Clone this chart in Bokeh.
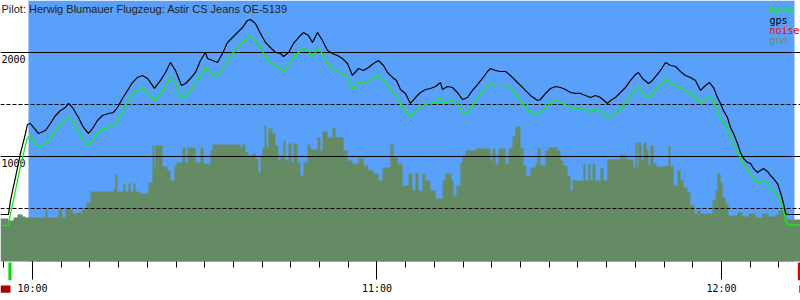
from bokeh.plotting import figure
from bokeh.models import Range1d, LinearAxis, FixedTicker, Grid
from bokeh.core.properties import value
from bokeh.embed import file_html
from bokeh.resources import INLINE

TITLE = "Pilot: Herwig Blumauer Flugzeug: Astir CS Jeans OE-5139"

# time in minutes after 10:00
t = [-5.57, -4.18, -3.83, -2.96, -2.09, -1.22, -0.87, -0.35, 0.17, 1.05,
     2.26, 3.13, 4.01, 4.88, 5.75, 6.27, 6.97, 8.01, 8.88, 9.75,
     10.45, 11.32, 12.19, 13.24, 14.11, 14.80, 15.67, 16.55, 17.42, 18.29,
     19.16, 20.03, 20.90, 21.25, 22.29, 23.16, 24.03, 24.91, 25.95, 26.65,
     27.52, 28.39, 29.26, 30.13, 30.48, 31.35, 32.22, 33.09, 33.96, 34.83,
     35.70, 36.57, 37.45, 37.97, 38.84, 39.71, 40.58, 41.45, 42.32, 43.19,
     43.72, 44.59, 45.46, 46.33, 47.20, 48.07, 48.77, 49.64, 50.51, 51.38,
     52.25, 53.12, 53.99, 54.86, 55.73, 56.78, 57.65, 58.52, 59.39, 60.26,
     61.13, 61.83, 62.70, 63.40, 64.09, 64.96, 65.83, 66.71, 67.58, 68.45,
     69.32, 70.19, 71.06, 71.41, 72.28, 73.15, 74.02, 74.89, 75.76, 76.63,
     77.50, 78.37, 79.24, 79.77, 80.64, 81.51, 82.38, 83.25, 84.12, 84.99,
     85.86, 86.73, 87.95, 88.47, 89.35, 90.22, 91.09, 91.96, 92.83, 93.70,
     94.57, 95.44, 96.31, 97.18, 98.05, 98.93, 100.14, 100.67, 101.54, 102.41,
     103.28, 104.15, 105.02, 105.54, 106.24, 107.29, 107.98, 108.68, 109.38, 110.25,
     111.12, 111.99, 112.86, 113.73, 114.60, 115.47, 116.34, 117.21, 117.91, 118.61,
     119.30, 119.83, 120.35, 121.04, 121.57, 122.09, 122.79, 123.31, 123.83, 124.53,
     125.05, 125.57, 126.27, 126.79, 127.31, 128.01, 128.53, 129.06, 129.75, 130.28,
     130.80, 131.15, 131.50, 133.76]

gps = [442, 442, 577, 798, 1029, 1221, 1308, 1317, 1279, 1221,
       1250, 1317, 1394, 1442, 1471, 1510, 1471, 1375, 1279, 1221,
       1269, 1346, 1394, 1413, 1423, 1471, 1558, 1635, 1711, 1760,
       1779, 1750, 1683, 1654, 1731, 1808, 1904, 1827, 1683, 1702,
       1750, 1808, 1923, 2000, 1942, 1923, 1904, 1990, 2096, 2144,
       2192, 2240, 2308, 2317, 2279, 2183, 2096, 2048, 2000, 1990,
       1961, 2000, 2087, 2144, 2192, 2163, 2096, 2192, 2115, 2019,
       1990, 1971, 1942, 1894, 1779, 1846, 1827, 1856, 1894, 1923,
       1875, 1808, 1760, 1731, 1644, 1606, 1510, 1567, 1615, 1644,
       1654, 1673, 1711, 1644, 1673, 1663, 1615, 1548, 1567, 1635,
       1692, 1750, 1817, 1846, 1827, 1817, 1817, 1779, 1731, 1683,
       1635, 1587, 1538, 1548, 1606, 1654, 1673, 1663, 1644, 1615,
       1606, 1606, 1587, 1567, 1587, 1567, 1510, 1538, 1567, 1615,
       1663, 1731, 1788, 1808, 1750, 1702, 1731, 1779, 1827, 1904,
       1875, 1865, 1817, 1779, 1760, 1731, 1635, 1683, 1711, 1663,
       1567, 1510, 1442, 1375, 1279, 1221, 1125, 1038, 981, 942,
       933, 885, 846, 865, 885, 856, 817, 788, 740, 654,
       548, 452, 442, 442]

baro = [337, 337, 452, 673, 904, 1106, 1183, 1202, 1154, 1096,
        1125, 1183, 1250, 1308, 1346, 1375, 1346, 1250, 1154, 1106,
        1154, 1221, 1269, 1279, 1298, 1327, 1423, 1519, 1606, 1644,
        1654, 1615, 1558, 1529, 1606, 1673, 1769, 1702, 1558, 1577,
        1635, 1702, 1779, 1856, 1827, 1788, 1769, 1846, 1923, 1990,
        2038, 2096, 2144, 2154, 2115, 2048, 1952, 1904, 1875, 1846,
        1817, 1875, 1952, 2000, 2038, 2019, 1952, 2038, 1990, 1894,
        1846, 1817, 1798, 1760, 1654, 1711, 1702, 1731, 1760, 1779,
        1731, 1683, 1625, 1587, 1500, 1442, 1375, 1442, 1481, 1500,
        1510, 1519, 1567, 1510, 1529, 1538, 1519, 1413, 1423, 1490,
        1558, 1625, 1673, 1702, 1683, 1683, 1683, 1663, 1606, 1538,
        1481, 1423, 1394, 1413, 1471, 1519, 1548, 1519, 1500, 1471,
        1462, 1471, 1452, 1423, 1462, 1433, 1375, 1385, 1413, 1462,
        1519, 1587, 1654, 1673, 1615, 1567, 1596, 1654, 1683, 1750,
        1711, 1683, 1654, 1635, 1615, 1567, 1510, 1558, 1577, 1538,
        1442, 1375, 1327, 1269, 1202, 1135, 1058, 990, 933, 865,
        837, 788, 740, 750, 769, 740, 702, 673, 625, 577,
        481, 385, 346, 337]

# ground elevation below the track: step starts (minutes) and heights (m)
gnd_t = [-5.57, -4.18, -3.31, -2.61, -1.74, -1.22, 2.26, 2.61, 4.53, 5.22,
         5.75, 6.27, 6.97, 7.84, 8.71, 9.40, 10.10, 14.11, 14.46, 14.80,
         15.85, 16.20, 16.72, 17.07, 17.59, 17.94, 18.64, 20.20, 20.90, 21.25,
         21.42, 22.64, 23.51, 24.03, 24.73, 25.08, 26.12, 26.65, 27.00, 28.39,
         29.26, 29.78, 31.00, 31.35, 36.23, 36.57, 37.10, 37.62, 38.32, 38.84,
         39.36, 39.71, 40.06, 40.41, 40.75, 41.10, 41.80, 42.32, 42.84, 43.19,
         43.72, 44.06, 44.59, 45.11, 45.46, 46.15, 46.68, 47.20, 47.90, 48.42,
         49.64, 50.16, 50.51, 51.38, 52.25, 52.77, 54.17, 54.86, 55.73, 56.78,
         57.65, 58.52, 59.39, 60.26, 60.96, 62.35, 62.87, 63.57, 64.44, 65.49,
         66.18, 66.71, 67.23, 67.92, 68.45, 69.32, 70.19, 71.41, 71.93, 72.98,
         73.32, 73.85, 74.54, 74.89, 75.41, 77.15, 79.77, 80.12, 80.64, 81.16,
         82.38, 82.90, 83.25, 83.60, 84.12, 84.99, 85.51, 86.04, 86.73, 87.60,
         87.95, 88.47, 89.35, 89.87, 91.44, 91.96, 92.48, 93.18, 93.70, 94.05,
         95.96, 96.31, 96.84, 97.18, 97.53, 98.05, 98.93, 99.45, 100.14, 102.41,
         102.93, 103.10, 103.45, 104.67, 105.02, 105.37, 105.54, 106.06, 106.41, 106.93,
         107.29, 107.63, 108.16, 108.68, 110.76, 111.12, 111.64, 112.34, 112.86, 113.38,
         114.08, 114.60, 115.30, 115.82, 116.34, 118.43, 118.96, 119.30, 119.83, 120.17,
         120.70, 121.22, 122.79, 123.66, 124.71, 125.92, 127.14, 128.19, 129.41, 129.93,
         130.80, 131.32, 133.76]
gnd = [404, 385, 413, 442, 423, 413, 490, 413, 490, 413,
       500, 490, 452, 462, 490, 558, 663, 692, 827, 663,
       740, 663, 740, 663, 740, 663, 644, 750, 1106, 904,
       1106, 904, 865, 769, 913, 942, 1087, 942, 1087, 942,
       1087, 933, 1058, 1115, 1087, 1115, 1038, 1010, 1029, 981,
       846, 1010, 1087, 1298, 1087, 1269, 1221, 1106, 962, 1010,
       1154, 962, 1125, 942, 1125, 942, 817, 942, 1115, 1067,
       1183, 1058, 1240, 1183, 1279, 1183, 1058, 962, 933, 981,
       913, 865, 837, 769, 894, 1115, 990, 933, 721, 837,
       673, 837, 673, 837, 769, 673, 596, 769, 837, 769,
       625, 721, 942, 1010, 1058, 1077, 962, 1077, 933, 1077,
       933, 1077, 1087, 1192, 1288, 1087, 913, 817, 894, 933,
       1077, 913, 1058, 1087, 1058, 962, 913, 817, 673, 769,
       933, 769, 933, 769, 933, 769, 885, 769, 971, 1019,
       971, 1019, 971, 894, 1135, 894, 1135, 962, 1135, 1058,
       913, 1106, 933, 904, 1106, 904, 721, 865, 769, 702,
       654, 529, 452, 481, 452, 577, 673, 837, 750, 606,
       548, 433, 462, 423, 452, 413, 452, 423, 442, 481,
       500, 394]

hour_ticks = [0, 60, 120]
hour_labels = ["10:00", "11:00", "12:00"]
minor_ticks = list(range(-5, 135, 5))
alt_major = [1000, 2000]
alt_minor = [500, 1500]
alt_labels = ["1000", "2000"]

takeoff = -3.92
landing = 133.5
sky_start, sky_end = -0.70, 132.71
legend_names = ["baro", "gps", "noise", "gnd"]

BLUE = "#59a0fb"
GND_C = "#658b64"
BARO_C = "#11ee11"
legend_colors = [BARO_C, "#000000", "#ff0000", "#6c8f68"]

X0, X1 = -5.57, 133.76
Y0, Y1 = -385, 2500
FLOOR = -10
MONO = value("DejaVu Sans Mono")

p = figure(width=800, height=300, x_range=Range1d(X0, X1), y_range=Range1d(Y0, Y1),
           x_axis_type=None, y_axis_type=None, toolbar_location=None,
           output_backend="svg", min_border=0, outline_line_color=None,
           background_fill_color="white", border_fill_color="white")

# sky background and ground profile
p.quad(left=[sky_start], right=[sky_end], bottom=[FLOOR], top=[Y1],
       fill_color=BLUE, line_color=None, level="image")
px, py = [gnd_t[0]], [FLOOR]
for i, g in enumerate(gnd):
    px += [gnd_t[i], gnd_t[i + 1]]
    py += [g, g]
px.append(gnd_t[-1]); py.append(FLOOR)
p.patch(px, py, fill_color=GND_C, line_color=None, level="image")

grid = Grid(dimension=1, ticker=FixedTicker(ticks=alt_major, minor_ticks=alt_minor),
            grid_line_color="black", grid_line_width=1,
            minor_grid_line_color="black", minor_grid_line_width=1,
            minor_grid_line_dash="4 2")
p.add_layout(grid, "center")

# altitude labels
p.text(x=[X0, X0], y=alt_major, text=alt_labels, text_baseline="top",
       y_offset=3, x_offset=1, text_font=MONO, text_font_size="10px", text_color="black")

# tracks
p.line(t, gps, line_color="black", line_width=1.2)
p.line(t, baro, line_color=BARO_C, line_width=1.3)

# takeoff / landing markers below the axis
p.quad(left=[takeoff - 0.27], right=[takeoff + 0.27], top=[-20], bottom=[-190],
       fill_color="#00dd00", line_color=None)
p.quad(left=[landing - 0.2], right=[X1], top=[-20], bottom=[-190],
       fill_color="#dd0000", line_color=None)
p.quad(left=[X0], right=[X0 + 1.74], top=[-240], bottom=[-310],
       fill_color="#a50000", line_color=None)
p.quad(left=[landing + 0.05], right=[X1], top=[-240], bottom=[-310],
       fill_color="#a50000", line_color=None)

# title and legend
p.text(x=[X0], y=[Y1], text=[TITLE], text_baseline="top", x_offset=1, y_offset=2,
       text_font=value("Liberation Sans"), text_font_size="11px", text_color="#222222")
LEG_X = 128.36
for k, (name, col) in enumerate(zip(legend_names, legend_colors)):
    p.text(x=[LEG_X], y=[Y1], text=[name], text_baseline="alphabetic",
           y_offset=10 * (k + 1), text_font=MONO, text_font_size="10px", text_color=col)

xaxis = LinearAxis(ticker=FixedTicker(ticks=hour_ticks, minor_ticks=minor_ticks),
                   fixed_location=FLOOR)
xaxis.major_label_overrides = {tk: lb for tk, lb in zip(hour_ticks, hour_labels)}
xaxis.axis_line_color = None
xaxis.major_tick_out = 18
xaxis.major_tick_in = 0
xaxis.minor_tick_out = 6
xaxis.minor_tick_in = 0
xaxis.major_tick_line_color = "black"
xaxis.minor_tick_line_color = "black"
xaxis.major_label_standoff = 3
xaxis.major_label_text_font = "DejaVu Sans Mono"
xaxis.major_label_text_font_size = "10px"
xaxis.major_label_text_color = "black"
p.add_layout(xaxis, "below")

open("out.html", "w").write(file_html(p, INLINE))
